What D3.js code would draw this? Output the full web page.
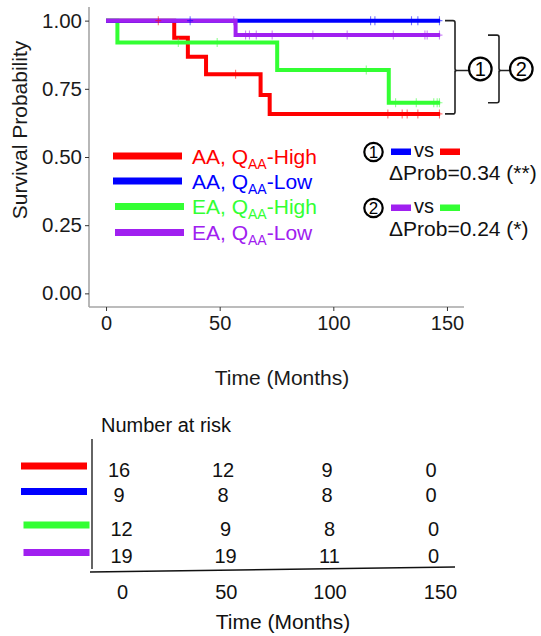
<!DOCTYPE html>
<html>
<head>
<meta charset="utf-8">
<script src="https://cdn.jsdelivr.net/npm/d3@7"></script>
<style>
  html, body { margin: 0; padding: 0; background: #fff; }
  svg { display: block; font-family: "Liberation Sans", Arial, Helvetica, sans-serif; }
</style>
</head>
<body>
<svg id="chart" width="541" height="636"></svg>
<script>
// Kaplan–Meier step curves (time in months, survival probability after each step)
const groupNames = ["AA, Q-High", "AA, Q-Low", "EA, Q-High", "EA, Q-Low"];
const groupColors = ["#ff0000", "#0000ff", "#33ff33", "#a020f0"];

const redTimes = [0, 30, 36, 44, 68, 72, 147];
const redSurv = [1, 0.937, 0.868, 0.803, 0.727, 0.658, 0.658];
const redCensor = [23, 57, 124, 130.3, 132.5, 137.2, 146.7];

const blueTimes = [0, 147];
const blueSurv = [1, 1];
const blueCensor = [37, 116.4, 118.3, 134.4, 137.2, 146.7];

const greenTimes = [0, 5, 75.3, 124.4, 147];
const greenSurv = [1, 0.92, 0.819, 0.699, 0.699];
const greenCensor = [31.8, 48.9, 114.5, 127.4, 136.5, 144.2, 145.7, 146.7];

const purpleTimes = [0, 57, 147];
const purpleSurv = [1, 0.947, 0.947];
const purpleCensor = [56.2, 61.4, 63.1, 66.1, 73.1, 91, 106.1, 126.4, 140.3, 141.3, 146.7];

// Axis ticks
const xTicks = [0, 50, 100, 150];
const yTicks = [0, 0.25, 0.5, 0.75, 1];

// Number-at-risk table
const riskTimes = [0, 50, 100, 150];
const riskRed = [16, 12, 9, 0];
const riskBlue = [9, 8, 8, 0];
const riskGreen = [12, 9, 8, 0];
const riskPurple = [19, 19, 11, 0];

// Pairwise comparisons
const compLabels = ["1", "2"];
const compDelta = ["0.34 (**)", "0.24 (*)"];

const groups = [
  { times: redTimes, surv: redSurv, censor: redCensor, color: groupColors[0], risk: riskRed },
  { times: blueTimes, surv: blueSurv, censor: blueCensor, color: groupColors[1], risk: riskBlue },
  { times: greenTimes, surv: greenSurv, censor: greenCensor, color: groupColors[2], risk: riskGreen },
  { times: purpleTimes, surv: purpleSurv, censor: purpleCensor, color: groupColors[3], risk: riskPurple }
];

const svg = d3.select("#chart");
const FONT = 21;

// ---------- survival panel ----------
const x = d3.scaleLinear().domain([-7.5, 157.5]).range([89, 464]);
const y = d3.scaleLinear().domain([-0.05, 1.05]).range([307, 7]);

const axisColor = "#a6a6a6";

const gx = svg.append("g").attr("transform", "translate(0,307)")
  .call(d3.axisBottom(x).tickValues(xTicks).tickSize(4).tickPadding(5).tickFormat(d3.format("d")));
const gy = svg.append("g").attr("transform", "translate(89,0)")
  .call(d3.axisLeft(y).tickValues(yTicks).tickSize(4).tickPadding(3).tickFormat(d3.format(".2f")));
[gx, gy].forEach(g => {
  g.select(".domain").attr("stroke", axisColor).attr("stroke-width", 1.6);
  g.selectAll(".tick line").attr("stroke", "#333").attr("stroke-width", 1);
  g.selectAll(".tick text").attr("fill", "#1a1a1a").attr("font-size", 20)
    .attr("font-family", "Liberation Sans, Arial, sans-serif");
});
gy.selectAll(".tick text").attr("font-size", 20.5);
gx.select(".domain").attr("d", "M89,0H464");
gy.select(".domain").attr("d", "M0,7V307");

svg.append("text").attr("transform", "translate(27,130) rotate(-90)")
  .attr("text-anchor", "middle").attr("font-size", FONT).attr("fill", "#1a1a1a")
  .text("Survival Probability");
svg.append("text").attr("x", 282).attr("y", 385)
  .attr("text-anchor", "middle").attr("font-size", FONT).attr("fill", "#1a1a1a")
  .text("Time (Months)");

const line = d3.line().x(d => x(d[0])).y(d => y(d[1])).curve(d3.curveStepAfter);
const survAt = (g, t) => {
  let s = g.surv[0];
  g.times.forEach((tt, i) => { if (tt <= t) s = g.surv[i]; });
  return s;
};

const drawOrder = [0, 2, 1, 3];
drawOrder.forEach(i => {
  const g = groups[i];
  svg.append("path")
    .attr("d", line(g.times.map((t, j) => [t, g.surv[j]])))
    .attr("fill", "none").attr("stroke", g.color).attr("stroke-width", 4);
});
drawOrder.forEach(i => {
  const g = groups[i];
  svg.append("g").selectAll("path").data(g.censor).join("path")
    .attr("transform", t => `translate(${x(t)},${y(survAt(g, t))})`)
    .attr("d", "M-3,0H3M0,-4.5V4.5")
    .attr("stroke", g.color).attr("stroke-width", 1.1).attr("stroke-opacity", 0.55)
    .attr("fill", "none");
});

// legend inside panel
const legY = [156, 181, 206.5, 232.5];
const legX0 = [113, 113, 115, 115];
const legLabels = [["AA, Q", "AA", "-High"], ["AA, Q", "AA", "-Low"], ["EA, Q", "AA", "-High"], ["EA, Q", "AA", "-Low"]];
groups.forEach((g, i) => {
  svg.append("line").attr("x1", legX0[i]).attr("x2", legX0[i] + 69)
    .attr("y1", legY[i]).attr("y2", legY[i])
    .attr("stroke", g.color).attr("stroke-width", 7);
  const t = svg.append("text").attr("x", 192).attr("y", legY[i] + 7.5)
    .attr("font-size", FONT).attr("fill", g.color);
  t.append("tspan").text(legLabels[i][0]);
  t.append("tspan").attr("font-size", 14).attr("dy", 5).text(legLabels[i][1]);
  t.append("tspan").attr("dy", -5).text(legLabels[i][2]);
});

// brackets linking compared curves
function circled(cx, cy, r, label, fs) {
  svg.append("circle").attr("cx", cx).attr("cy", cy).attr("r", r)
    .attr("fill", "none").attr("stroke", "#000").attr("stroke-width", 2.2);
  svg.append("text").attr("x", cx).attr("y", cy + fs * 0.36)
    .attr("text-anchor", "middle").attr("font-size", fs).attr("fill", "#000").text(label);
}
function bracket(x0, xv, top, bot, midY, xEnd) {
  svg.append("path")
    .attr("d", `M${x0},${top}H${xv - 2}Q${xv},${top} ${xv},${top + 2}V${midY - 2}Q${xv},${midY} ${xv + 2},${midY}H${xEnd}` +
      `M${xv},${midY + 2}Q${xv},${midY} ${xv + 2},${midY}M${xv},${midY}V${bot - 2}Q${xv},${bot} ${xv - 2},${bot}H${x0}`)
    .attr("fill", "none").attr("stroke", "#222").attr("stroke-width", 1.6);
}
const br1Top = y(blueSurv[0]), br1Bot = y(redSurv[redSurv.length - 1]);
const br2Top = y(purpleSurv[purpleSurv.length - 1]), br2Bot = y(greenSurv[greenSurv.length - 1]);
bracket(445, 455, br1Top, br1Bot, 70.5, 468.5);
circled(480.3, 69, 11.3, compLabels[0], 20);
bracket(488, 499, br2Top, br2Bot, 70.5, 509.5);
circled(521.3, 69, 11.3, compLabels[1], 20);

// comparison notes
const compY = [152, 208];
const compPairs = [[1, 0], [3, 2]];
compPairs.forEach((p, i) => {
  circled(373.5, compY[i], 9.2, compLabels[i], 17);
  svg.append("rect").attr("x", 391).attr("y", compY[i] - 3.5).attr("width", 20).attr("height", 6.5)
    .attr("fill", groups[p[0]].color);
  svg.append("text").attr("x", 414).attr("y", compY[i] + 5).attr("font-size", 20).attr("fill", "#111").text("vs");
  svg.append("rect").attr("x", 440).attr("y", compY[i] - 3.5).attr("width", 20).attr("height", 6.5)
    .attr("fill", groups[p[1]].color);
  svg.append("text").attr("x", 389).attr("y", compY[i] + 27.5).attr("font-size", FONT).attr("fill", "#111")
    .text("\u0394Prob=" + compDelta[i]);
});

// ---------- number-at-risk table ----------
svg.append("text").attr("x", 101).attr("y", 432).attr("font-size", 20).attr("fill", "#111")
  .text("Number at risk");
svg.append("line").attr("x1", 92).attr("x2", 92).attr("y1", 439).attr("y2", 569)
  .attr("stroke", "#111").attr("stroke-width", 1.3);
svg.append("line").attr("x1", 90).attr("x2", 455).attr("y1", 572).attr("y2", 567)
  .attr("stroke", "#111").attr("stroke-width", 1.3);

const xr = d3.scaleLinear().domain([0, 150]).range([119, 431]);
const rowY = [466, 491.5, 525, 552.5];
const rowShift = [0, 0, 2.5, 2.5];
const rowLineX = [21, 21, 23.5, 23.5];
groups.forEach((g, i) => {
  svg.append("line").attr("x1", rowLineX[i]).attr("x2", rowLineX[i] + 66)
    .attr("y1", rowY[i]).attr("y2", rowY[i])
    .attr("stroke", g.color).attr("stroke-width", 7);
  svg.append("g").selectAll("text").data(riskTimes).join("text")
    .attr("x", (t) => xr(t) + rowShift[i]).attr("y", rowY[i] + 10.5)
    .attr("text-anchor", "middle").attr("font-size", 20).attr("fill", "#111")
    .text((t, j) => g.risk[j]);
});
const xb = d3.scaleLinear().domain([0, 100, 150]).range([122.5, 330, 440.5]);
svg.append("g").selectAll("text").data(riskTimes).join("text")
  .attr("x", d => xb(d)).attr("y", 599)
  .attr("text-anchor", "middle").attr("font-size", 20).attr("fill", "#111").text(d => d);
svg.append("text").attr("x", 283).attr("y", 629)
  .attr("text-anchor", "middle").attr("font-size", FONT).attr("fill", "#111")
  .text("Time (Months)");
</script>
</body>
</html>
